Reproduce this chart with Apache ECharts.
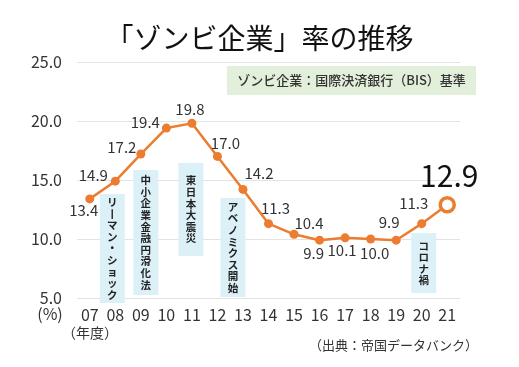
<!DOCTYPE html>
<html>
<head>
<meta charset="utf-8">
<script src="https://cdn.jsdelivr.net/npm/echarts@6/dist/echarts.min.js"></script>
<style>
html,body{margin:0;padding:0;background:#fff;}
#c{width:519px;height:367px;}
</style>
</head>
<body>
<div id="c"></div>
<script>
// ---- data ----
var categories = ['07','08','09','10','11','12','13','14','15','16','17','18','19','20','21'];
var zombieRate = [13.4,14.9,17.2,19.4,19.8,17.0,14.2,11.3,10.4,9.9,10.1,10.0,9.9,11.3,12.9];
var yTicks = {min:5, max:25, interval:5};
var titleText = '「ゾンビ企業」率の推移';
var noteText = 'ゾンビ企業：国際決済銀行（BIS）基準';
var sourceText = '（出典：帝国データバンク）';
var events = [
  {cat:'08', text:'リ丨マン・ショック'},
  {cat:'09', text:'中小企業金融円滑化法'},
  {cat:'11', text:'東日本大震災'},
  {cat:'13', text:'アベノミクス開始'},
  {cat:'20', text:'コロナ禍'}
];

// ---- styling / layout (not data) ----
var ORANGE = '#ec7c30';
var FONT = '"Noto Sans CJK JP","Noto Sans",sans-serif';
var labelOffsets = [[-6,11],[-22,-6],[-19,-7],[-21,-6],[-2,-14],[8,-13],[16,-16],[7,-15],[15,-11],[-6,13],[-3,12],[4,14],[-7,-18],[-8,-20],[2,-29]];
// annotation boxes: x offset from category centre, top and bottom in px
var eventBoxes = [
  {dx:-3, top:194, bottom:303},
  {dx:5,  top:170, bottom:295},
  {dx:-1, top:163, bottom:256},
  {dx:-10,top:198, bottom:297},
  {dx:2,  top:233, bottom:293}
];

var chart = echarts.init(document.getElementById('c'), null, {renderer:'canvas'});

var seriesData = zombieRate.map(function(v,i){
  var last = i === zombieRate.length-1;
  return {
    value: v,
    symbolSize: last ? 14 : 9,
    itemStyle: last ? {color:'#fff', borderColor:ORANGE, borderWidth:3.5} : {color:ORANGE},
    label: {
      show:true, position:'inside', offset: labelOffsets[i],
      formatter: function(p){ return p.value.toFixed(1); },
      fontSize: last ? 30 : 15, color: last ? '#111' : '#333',
      fontFamily: FONT
    }
  };
});

var option = {
  animation:false,
  backgroundColor:'#fff',
  grid:{left:77, right:59, top:62, bottom:69},
  xAxis:{
    type:'category', data:categories, boundaryGap:true,
    axisLine:{show:false}, axisTick:{show:false},
    axisLabel:{fontSize:16, color:'#333', margin:9, fontFamily:FONT}
  },
  yAxis:{
    type:'value', min:yTicks.min, max:yTicks.max, interval:yTicks.interval,
    axisLine:{show:false}, axisTick:{show:false},
    splitLine:{lineStyle:{color:'#e3e3e3', width:1}},
    axisLabel:{fontSize:16, color:'#333', margin:15, fontFamily:FONT,
      formatter:function(v){return v.toFixed(1);}}
  },
  series:[{
    type:'line', data:seriesData, symbol:'circle',
    lineStyle:{color:ORANGE, width:2.5},
    itemStyle:{color:ORANGE},
    z:5
  }]
};
chart.setOption(option);

var g = [];
// title
g.push({type:'text', left:'center', top:24, style:{text:titleText, font:'normal 28px '+FONT, fill:'#111'}});
// note box
g.push({type:'rect', shape:{x:227, y:66, width:249, height:29}, style:{fill:'#e2efda'}, z:1});
g.push({type:'text', x:351.5, y:80.5, style:{text:noteText, font:'500 13px '+FONT, fill:'#333', align:'center', verticalAlign:'middle'}, z:2});
// event annotations
events.forEach(function(ev, i){
  var b = eventBoxes[i];
  var cx = chart.convertToPixel({xAxisIndex:0}, ev.cat) + b.dx;
  var w = 25;
  g.push({type:'rect', shape:{x:cx-w/2, y:b.top, width:w, height:b.bottom-b.top}, style:{fill:'#dcf1f7'}, z:1});
  var chars = ev.text.split('').join('\n');
  g.push({type:'text', x:cx, y:(b.top+b.bottom)/2, style:{text:chars, font:'bold 10.5px '+FONT, fill:'#222', align:'center', verticalAlign:'middle', lineHeight:11.6}, z:2});
});
// axis unit texts
g.push({type:'text', x:50, y:314, style:{text:'(%)', font:'normal 16px '+FONT, fill:'#333', align:'center', verticalAlign:'middle'}});
g.push({type:'text', x:90, y:333, style:{text:'（年度）', font:'normal 14px '+FONT, fill:'#333', align:'center', verticalAlign:'middle'}});
g.push({type:'text', x:478, y:345, style:{text:sourceText, font:'normal 13px '+FONT, fill:'#333', align:'right', verticalAlign:'middle'}});

chart.setOption({graphic:g});
</script>
</body>
</html>
